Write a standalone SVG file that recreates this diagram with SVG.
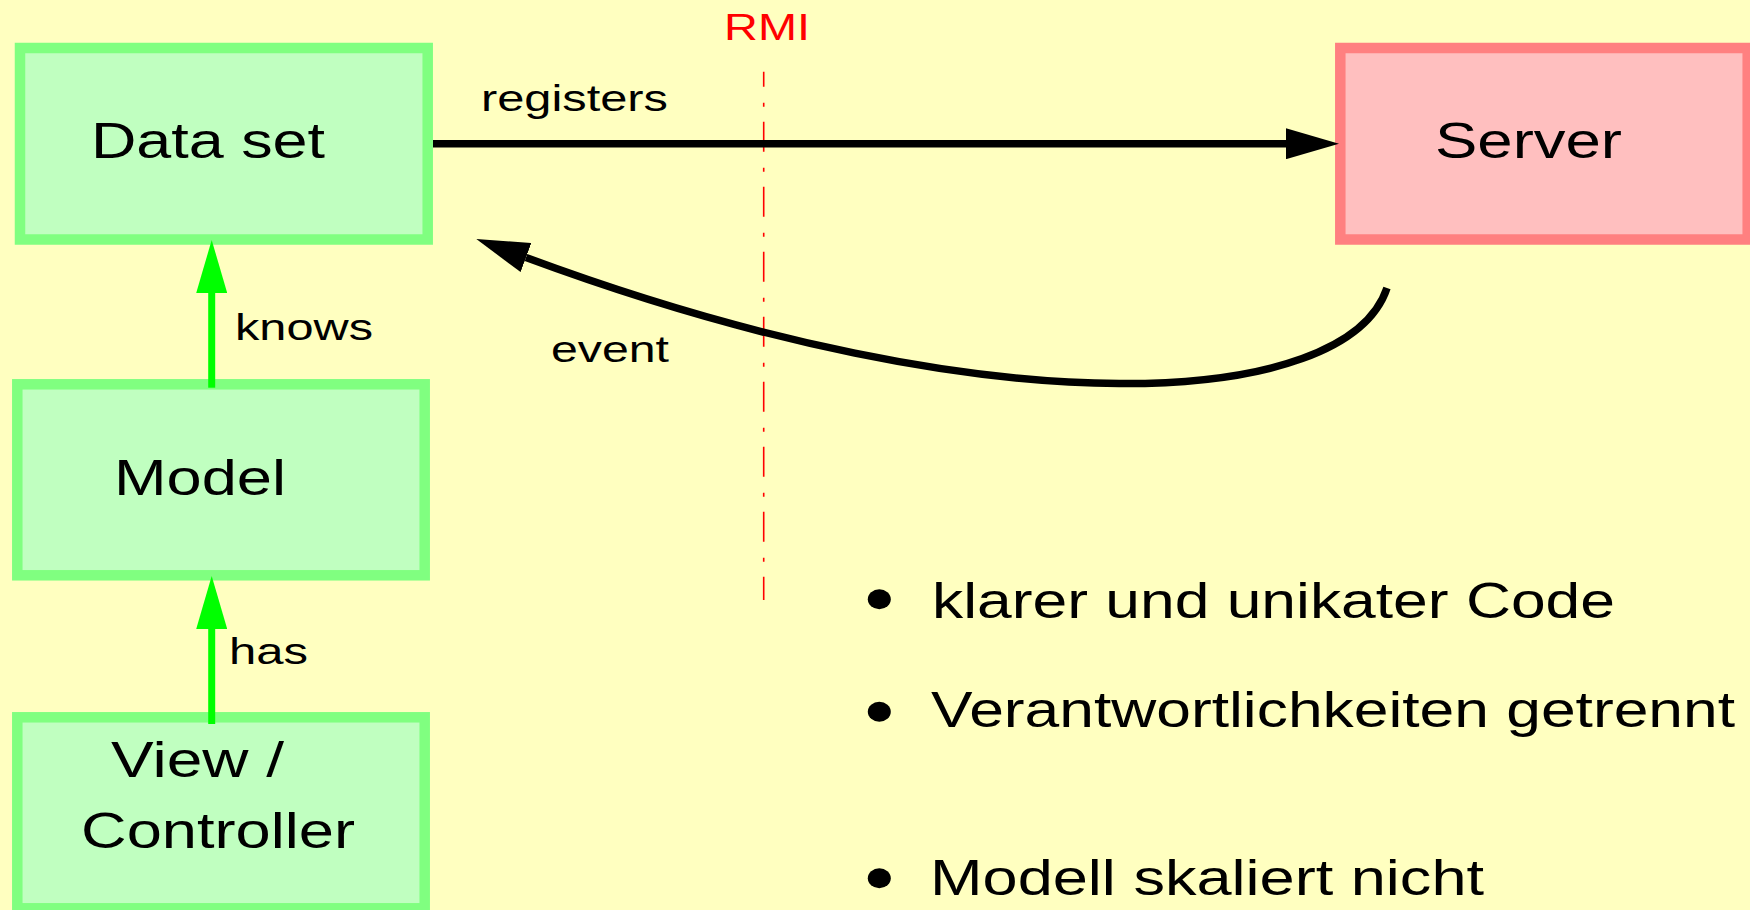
<svg xmlns="http://www.w3.org/2000/svg" width="1750" height="910" viewBox="0 0 1750 910">
  <style>
    text { font-family: "Liberation Sans", Arial, Helvetica, sans-serif; fill: #000; }
    .big { font-size: 50px; }
    .lbl { font-size: 37px; }
    .rmi { font-size: 36px; fill: #FF0000; }
    .client { fill: #C0FFC0; stroke: #80FF80; stroke-width: 10.5; }
    .server { fill: #FFBFBF; stroke: #FF8080; stroke-width: 10.5; }
    .call { fill: none; stroke: #000; stroke-width: 7.5; }
    .uses { fill: none; stroke: #00FF00; stroke-width: 7; }
  </style>
  <defs>
    <marker id="headBlack" markerUnits="userSpaceOnUse" viewBox="0 0 53 31" markerWidth="53" markerHeight="31" refX="0" refY="15.5" orient="auto">
      <path d="M0,0 L53,15.5 L0,31 z" fill="#000"/>
    </marker>
    <marker id="headGreen" markerUnits="userSpaceOnUse" viewBox="0 0 53 31" markerWidth="53" markerHeight="31" refX="0" refY="15.5" orient="auto">
      <path d="M0,0 L53,15.5 L0,31 z" fill="#00FF00"/>
    </marker>
  </defs>

  <!-- page background -->
  <rect x="0" y="0" width="1750" height="910" fill="#FFFFC0"/>

  <!-- RMI boundary -->
  <g id="rmi-boundary">
    <path d="M763.7,71.7 V600" fill="none" stroke="#FF0000" stroke-width="1.6" stroke-dasharray="30 16 4 15" stroke-dashoffset="15"/>
    <text class="rmi" x="724" y="40" textLength="86" lengthAdjust="spacingAndGlyphs">RMI</text>
  </g>

  <!-- nodes -->
  <g id="node-dataset">
    <rect class="client" x="20" y="48" width="407.7" height="191.5"/>
    <text class="big" x="91" y="158" textLength="234" lengthAdjust="spacingAndGlyphs">Data set</text>
  </g>
  <g id="node-model">
    <rect class="client" x="17.3" y="384.3" width="407.4" height="191"/>
    <text class="big" x="114" y="495" textLength="172" lengthAdjust="spacingAndGlyphs">Model</text>
  </g>
  <g id="node-viewcontroller">
    <rect class="client" x="17.3" y="717.3" width="407.4" height="191"/>
    <text class="big" x="111" y="777" textLength="173" lengthAdjust="spacingAndGlyphs">View /</text>
    <text class="big" x="81" y="848" textLength="274" lengthAdjust="spacingAndGlyphs">Controller</text>
  </g>
  <g id="node-server">
    <rect class="server" x="1340.3" y="48" width="407.4" height="191.5"/>
    <text class="big" x="1435" y="158.3" textLength="187" lengthAdjust="spacingAndGlyphs">Server</text>
  </g>

  <!-- connectors -->
  <g id="connectors">
    <path class="call" d="M433,143.7 H1286" marker-end="url(#headBlack)"/>
    <text class="lbl" x="481" y="111" textLength="187" lengthAdjust="spacingAndGlyphs">registers</text>

    <path class="call" stroke-width="7" d="M1387,288 C1347,408 1000,433 526,257.5" marker-end="url(#headBlack)"/>
    <text class="lbl" x="551" y="361.7" textLength="118" lengthAdjust="spacingAndGlyphs">event</text>

    <path class="uses" d="M211.7,387.7 V293" marker-end="url(#headGreen)"/>
    <text class="lbl" x="235" y="340" textLength="138" lengthAdjust="spacingAndGlyphs">knows</text>

    <path class="uses" d="M211.7,724 V629" marker-end="url(#headGreen)"/>
    <text class="lbl" x="229" y="664" textLength="79" lengthAdjust="spacingAndGlyphs">has</text>
  </g>

  <!-- summary points -->
  <g id="summary">
    <ellipse cx="879.3" cy="599.3" rx="11.5" ry="10" fill="#000"/>
    <text class="big" x="932" y="618.3" textLength="683" lengthAdjust="spacingAndGlyphs">klarer und unikater Code</text>
    <ellipse cx="879.3" cy="711.7" rx="11.5" ry="10" fill="#000"/>
    <text class="big" x="931" y="726.7" textLength="804" lengthAdjust="spacingAndGlyphs">Verantwortlichkeiten getrennt</text>
    <ellipse cx="879.3" cy="878.3" rx="11.5" ry="10" fill="#000"/>
    <text class="big" x="930" y="895" textLength="554" lengthAdjust="spacingAndGlyphs">Modell skaliert nicht</text>
  </g>
</svg>
